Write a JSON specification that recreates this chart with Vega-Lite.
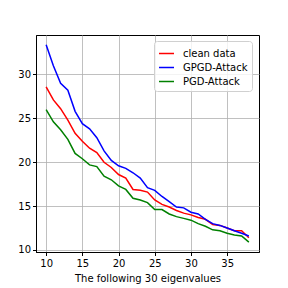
{
  "$schema": "https://vega.github.io/schema/vega-lite/v6.json",
  "autosize": "none",
  "width": 223,
  "height": 217,
  "padding": {"left": 36, "top": 35, "right": 29, "bottom": 36},
  "background": "white",
  "config": {
    "font": "DejaVu Sans",
    "view": {"stroke": "black", "strokeWidth": 1},
    "axis": {"labelFont": "DejaVu Sans", "titleFont": "DejaVu Sans", "labelFontSize": 10, "titleFontSize": 10, "titleFontWeight": "normal", "labelColor": "black", "titleColor": "black", "tickColor": "black", "domainColor": "black", "gridColor": "#b0b0b0", "gridOpacity": 1, "gridWidth": 0.8, "tickSize": 3.5}
  },
  "data": {"values": [
    {"x":10,"s":"clean data","y":28.6},{"x":11,"s":"clean data","y":27.1},{"x":12,"s":"clean data","y":26.1},{"x":13,"s":"clean data","y":24.8},{"x":14,"s":"clean data","y":23.3},{"x":15,"s":"clean data","y":22.4},{"x":16,"s":"clean data","y":21.6},{"x":17,"s":"clean data","y":21.1},{"x":18,"s":"clean data","y":20.0},{"x":19,"s":"clean data","y":19.4},{"x":20,"s":"clean data","y":18.6},{"x":21,"s":"clean data","y":18.2},{"x":22,"s":"clean data","y":16.9},{"x":23,"s":"clean data","y":16.8},{"x":24,"s":"clean data","y":16.6},{"x":25,"s":"clean data","y":15.7},{"x":26,"s":"clean data","y":15.2},{"x":27,"s":"clean data","y":14.9},{"x":28,"s":"clean data","y":14.5},{"x":29,"s":"clean data","y":14.2},{"x":30,"s":"clean data","y":14.0},{"x":31,"s":"clean data","y":13.7},{"x":32,"s":"clean data","y":13.5},{"x":33,"s":"clean data","y":12.9},{"x":34,"s":"clean data","y":12.8},{"x":35,"s":"clean data","y":12.5},{"x":36,"s":"clean data","y":12.2},{"x":37,"s":"clean data","y":12.2},{"x":38,"s":"clean data","y":11.4},
    {"x":10,"s":"GPGD-Attack","y":33.4},{"x":11,"s":"GPGD-Attack","y":31.0},{"x":12,"s":"GPGD-Attack","y":29.0},{"x":13,"s":"GPGD-Attack","y":28.2},{"x":14,"s":"GPGD-Attack","y":25.8},{"x":15,"s":"GPGD-Attack","y":24.4},{"x":16,"s":"GPGD-Attack","y":23.8},{"x":17,"s":"GPGD-Attack","y":22.8},{"x":18,"s":"GPGD-Attack","y":21.3},{"x":19,"s":"GPGD-Attack","y":20.2},{"x":20,"s":"GPGD-Attack","y":19.6},{"x":21,"s":"GPGD-Attack","y":19.3},{"x":22,"s":"GPGD-Attack","y":18.8},{"x":23,"s":"GPGD-Attack","y":18.2},{"x":24,"s":"GPGD-Attack","y":17.1},{"x":25,"s":"GPGD-Attack","y":16.8},{"x":26,"s":"GPGD-Attack","y":16.1},{"x":27,"s":"GPGD-Attack","y":15.5},{"x":28,"s":"GPGD-Attack","y":14.9},{"x":29,"s":"GPGD-Attack","y":14.8},{"x":30,"s":"GPGD-Attack","y":14.3},{"x":31,"s":"GPGD-Attack","y":14.1},{"x":32,"s":"GPGD-Attack","y":13.5},{"x":33,"s":"GPGD-Attack","y":13.0},{"x":34,"s":"GPGD-Attack","y":12.8},{"x":35,"s":"GPGD-Attack","y":12.5},{"x":36,"s":"GPGD-Attack","y":12.2},{"x":37,"s":"GPGD-Attack","y":11.9},{"x":38,"s":"GPGD-Attack","y":11.6},
    {"x":10,"s":"PGD-Attack","y":26.0},{"x":11,"s":"PGD-Attack","y":24.6},{"x":12,"s":"PGD-Attack","y":23.7},{"x":13,"s":"PGD-Attack","y":22.6},{"x":14,"s":"PGD-Attack","y":21.0},{"x":15,"s":"PGD-Attack","y":20.4},{"x":16,"s":"PGD-Attack","y":19.7},{"x":17,"s":"PGD-Attack","y":19.5},{"x":18,"s":"PGD-Attack","y":18.4},{"x":19,"s":"PGD-Attack","y":18.0},{"x":20,"s":"PGD-Attack","y":17.3},{"x":21,"s":"PGD-Attack","y":16.9},{"x":22,"s":"PGD-Attack","y":15.9},{"x":23,"s":"PGD-Attack","y":15.7},{"x":24,"s":"PGD-Attack","y":15.4},{"x":25,"s":"PGD-Attack","y":14.6},{"x":26,"s":"PGD-Attack","y":14.6},{"x":27,"s":"PGD-Attack","y":14.1},{"x":28,"s":"PGD-Attack","y":13.8},{"x":29,"s":"PGD-Attack","y":13.6},{"x":30,"s":"PGD-Attack","y":13.4},{"x":31,"s":"PGD-Attack","y":13.0},{"x":32,"s":"PGD-Attack","y":12.7},{"x":33,"s":"PGD-Attack","y":12.3},{"x":34,"s":"PGD-Attack","y":12.2},{"x":35,"s":"PGD-Attack","y":11.9},{"x":36,"s":"PGD-Attack","y":11.7},{"x":37,"s":"PGD-Attack","y":11.6},{"x":38,"s":"PGD-Attack","y":10.9}
  ]},
  "mark": {"type": "line", "strokeWidth": 1.5, "clip": true},
  "encoding": {
    "x": {"field": "x", "type": "quantitative", "title": "The following 30 eigenvalues",
      "scale": {"domain": [8.6, 39.4], "nice": false, "zero": false},
      "axis": {"values": [10, 15, 20, 25, 30, 35], "titlePadding": 5, "labelPadding": 3}},
    "y": {"field": "y", "type": "quantitative", "title": null,
      "scale": {"domain": [9.77, 34.5], "nice": false, "zero": false},
      "axis": {"values": [10, 15, 20, 25, 30], "labelPadding": 2}},
    "color": {"field": "s", "type": "nominal", "title": null,
      "scale": {"domain": ["clean data", "GPGD-Attack", "PGD-Attack"], "range": ["#ff0000", "#0000ff", "#008000"]},
      "legend": {"orient": "none", "legendX": 118, "legendY": 6, "symbolType": "stroke", "symbolSize": 225, "symbolStrokeWidth": 1.5, "labelFontSize": 10, "labelFont": "DejaVu Sans", "labelColor": "black", "fillColor": "rgba(255,255,255,0.8)", "strokeColor": "#d0d0d0", "padding": 4, "cornerRadius": 3, "rowPadding": 0, "symbolOffset": 0, "labelOffset": 8}}
  }
}
